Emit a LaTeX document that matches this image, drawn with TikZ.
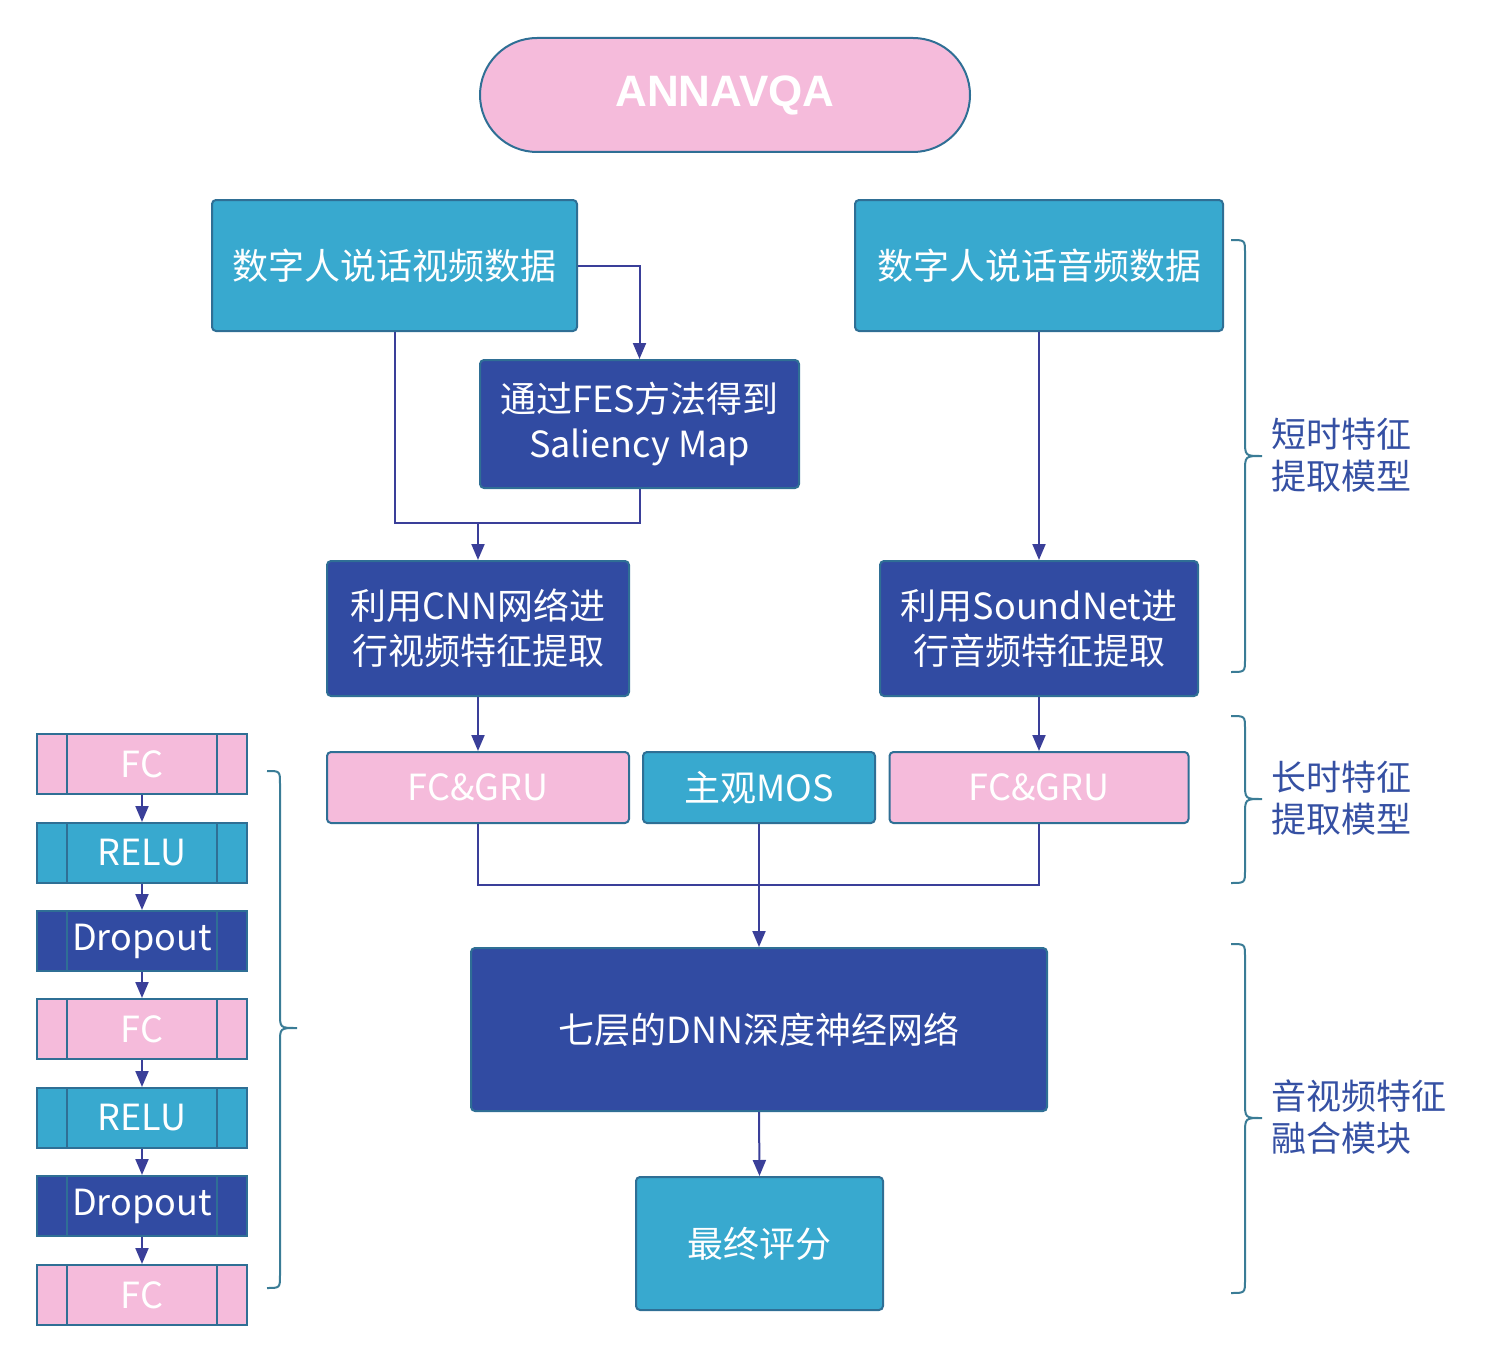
\documentclass[tikz,border=0pt]{standalone}
\usepackage{fontspec}
\setmainfont{Noto Sans CJK SC}
\newfontfamily\titlefont{Liberation Sans}
\usetikzlibrary{arrows.meta,calc}
\definecolor{lblue}{HTML}{38A9CF}
\definecolor{dblue}{HTML}{314BA2}
\definecolor{pinkc}{HTML}{F5BBDB}
\definecolor{edgec}{HTML}{2F6F95}
\definecolor{arrowc}{HTML}{3A3F99}
\definecolor{bracec}{HTML}{3A7C96}
\definecolor{labelc}{HTML}{3550A3}
\begin{document}
\begin{tikzpicture}[x=1pt,y=-1pt,
 box/.style={draw=edgec, line width=2pt, rounded corners=4pt, inner sep=0pt, text=white, font=\fontsize{36}{45}\selectfont, align=center},
 lb/.style={box, fill=lblue}, db/.style={box, fill=dblue}, pk/.style={box, fill=pinkc},
 proc/.style={draw=edgec, line width=2pt, inner sep=0pt, text=white, minimum width=210pt, minimum height=60pt, font=\fontsize{36}{40}\selectfont},
 conn/.style={draw=arrowc, line width=2pt},
 arr/.style={conn, -{Triangle[length=16pt,width=13pt]}},
 bracestyle/.style={draw=bracec, line width=2pt},
 blabel/.style={text=labelc, font=\fontsize{35}{42}\selectfont, align=left, anchor=west, inner sep=0pt}]
\useasboundingbox (0,0) rectangle (1494,1362);

% title
\node[draw=edgec, line width=2pt, fill=pinkc, rounded corners=57pt, minimum width=490pt, minimum height=114pt, inner sep=0pt, text=white, font=\titlefont\bfseries\fontsize{44}{50}\selectfont] (title) at (725,95) {ANNAVQA};

% main boxes
\node[lb, minimum width=365pt, minimum height=131pt] (vid) at (394.5,265.5) {数字人说话视频数据};
\node[lb, minimum width=368pt, minimum height=131pt] (aud) at (1039,265.5) {数字人说话音频数据};
\node[db, minimum width=319pt, minimum height=128pt] (fes) at (639.5,424) {通过FES方法得到\\Saliency Map};
\node[db, minimum width=302pt, minimum height=135pt] (cnn) at (478,628.5) {利用CNN网络进\\行视频特征提取};
\node[db, minimum width=318pt, minimum height=135pt] (snd) at (1039,628.5) {利用SoundNet进\\行音频特征提取};
\node[pk, minimum width=302pt, minimum height=71pt] (gru1) at (478,787.5) {FC\&GRU};
\node[lb, minimum width=232pt, minimum height=71pt] (mos) at (759,787.5) {主观MOS};
\node[pk, minimum width=299pt, minimum height=71pt] (gru2) at (1039,787.5) {FC\&GRU};
\node[db, minimum width=576pt, minimum height=163pt] (dnn) at (759,1029.5) {七层的DNN深度神经网络};
\node[lb, minimum width=247pt, minimum height=133pt] (fin) at (759.5,1243.5) {最终评分};

% connectors
\coordinate (j1) at (478,523);
\coordinate (j2) at (759,885);
\draw[arr] (vid.east) -| (fes.north);
\draw[conn] (vid.south) |- (j1);
\draw[conn] (fes.south) |- (j1);
\draw[arr] (j1) -- (cnn.north);
\draw[arr] (aud.south) -- (snd.north);
\draw[arr] (cnn.south) -- (gru1.north);
\draw[arr] (snd.south) -- (gru2.north);
\draw[conn] (gru1.south) |- (j2) -| (gru2.south);
\draw[arr] (mos.south) -- (dnn.north);
\draw[arr] (dnn.south) -- (fin.north);

% left column
\node[proc, fill=pinkc] (p1) at (142,764) {FC};
\node[proc, fill=lblue] (p2) at (142,853) {RELU};
\node[proc, fill=dblue] (p3) at (142,941) {Dropout};
\node[proc, fill=pinkc] (p4) at (142,1029) {FC};
\node[proc, fill=lblue] (p5) at (142,1118) {RELU};
\node[proc, fill=dblue] (p6) at (142,1206) {Dropout};
\node[proc, fill=pinkc] (p7) at (142,1295) {FC};
\foreach \n in {p1,p2,p3,p4,p5,p6,p7}{
  \draw[edgec, line width=2pt] ($(\n.north west)+(31,0)$) -- ($(\n.south west)+(31,0)$);
  \draw[edgec, line width=2pt] ($(\n.north east)+(-31,0)$) -- ($(\n.south east)+(-31,0)$);
}
\draw[arr] (p1.south) -- (p2.north);
\draw[arr] (p2.south) -- (p3.north);
\draw[arr] (p3.south) -- (p4.north);
\draw[arr] (p4.south) -- (p5.north);
\draw[arr] (p5.south) -- (p6.north);
\draw[arr] (p6.south) -- (p7.north);

% braces
% left column brace
\draw[bracestyle] (267,771) .. controls (280,771) .. (280,784) -- (280,1013) .. controls (280,1028) .. (297,1028) .. controls (280,1028) .. (280,1043) -- (280,1275) .. controls (280,1288) .. (267,1288);
% right brace 1
\draw[bracestyle] (1231,240) .. controls (1245,240) .. (1245,253) -- (1245,440) .. controls (1245,456) .. (1262,456) .. controls (1245,456) .. (1245,472) -- (1245,659) .. controls (1245,672) .. (1231,672);
% right brace 2
\draw[bracestyle] (1231,716) .. controls (1245,716) .. (1245,729) -- (1245,783) .. controls (1245,799) .. (1262,799) .. controls (1245,799) .. (1245,815) -- (1245,870) .. controls (1245,883) .. (1231,883);
% right brace 3
\draw[bracestyle] (1231,944) .. controls (1245,944) .. (1245,957) -- (1245,1102) .. controls (1245,1118) .. (1262,1118) .. controls (1245,1118) .. (1245,1134) -- (1245,1280) .. controls (1245,1293) .. (1231,1293);

\node[blabel] (l1) at (1271,455) {短时特征\\提取模型};
\node[blabel] (l2) at (1271,798) {长时特征\\提取模型};
\node[blabel] (l3) at (1271,1117) {音视频特征\\融合模块};
\end{tikzpicture}
\end{document}
